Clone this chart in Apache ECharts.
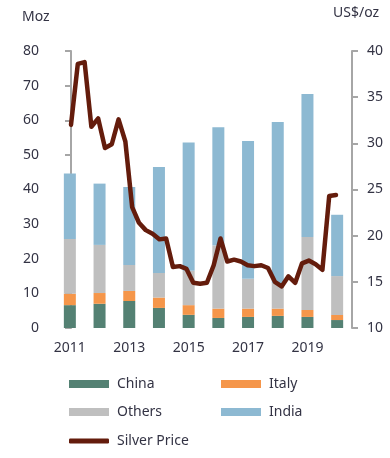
<!DOCTYPE html>
<html><head><meta charset="utf-8">
<script src="https://cdn.jsdelivr.net/npm/echarts@6/dist/echarts.min.js"></script>
<style>html,body{margin:0;padding:0;background:#fff}#c{width:390px;height:458px}</style>
</head><body><div id="c"></div>
<script>
var years = ['2011','2012','2013','2014','2015','2016','2017','2018','2019','2020'];
var china  = [6.6, 7.0, 7.8, 5.8, 3.8, 2.9, 3.2, 3.5, 3.2, 2.3];
var italy  = [3.3, 3.1, 2.9, 3.0, 2.8, 2.7, 2.4, 2.1, 2.0, 1.45];
var others = [15.8, 13.9, 7.5, 7.1, 9.9, 18.2, 8.6, 7.4, 21.1, 11.25];
var india  = [18.9, 17.7, 22.5, 30.6, 37.1, 34.2, 39.8, 46.5, 41.3, 17.7];
// quarterly silver price, 2011Q1 - 2020Q4 (US$/oz)
var silverPrice = [32.0, 38.6, 38.8, 31.8,
                   32.7, 29.5, 29.9, 32.6,
                   30.2, 23.1, 21.4, 20.6,
                   20.2, 19.6, 19.7, 16.6,
                   16.7, 16.4, 14.9, 14.8,
                   14.9, 16.8, 19.7, 17.2,
                   17.4, 17.2, 16.8, 16.7,
                   16.8, 16.5, 15.0, 14.5,
                   15.6, 14.9, 17.0, 17.3,
                   16.9, 16.3, 24.3, 24.4];
var leftTicks = {min: 0, max: 80, interval: 10};
var rightTicks = {min: 10, max: 40, interval: 5};

var txt = '#333344';
var font = 'Noto Sans';
var silverPts = silverPrice.map(function(v, i){ return [i, v]; });

var chart = echarts.init(document.getElementById('c'));
function lg(name, left, top, icon, h) {
  return {
    data: [{name: name, icon: icon || 'rect'}], left: left, top: top, padding: 0,
    itemWidth: 40, itemHeight: h || 8, selectedMode: false,
    textStyle: {fontFamily: font, fontSize: 14, color: txt, padding: [0,0,0,3]}
  };
}
chart.setOption({
  animation: false,
  textStyle: {fontFamily: font},
  grid: {left: 55, right: 38, top: 51, bottom: 130},
  graphic: [
    {type: 'text', left: 22, top: 10, style: {text: 'Moz', font: '14px "Noto Sans"', fill: txt}},
    {type: 'text', left: 333, top: 6, style: {text: 'US$/oz', font: '14px "Noto Sans"', fill: txt}}
  ],
  legend: [
    lg('China', 69, 377),
    lg('Italy', 221, 377),
    lg('Others', 69, 405),
    lg('India', 221, 405),
    lg('Silver Price', 69, 434, 'roundRect', 5)
  ],
  xAxis: [
    {type: 'category', data: years, boundaryGap: true,
     axisLine: {show: false}, axisTick: {show: false},
     axisLabel: {interval: 1, margin: 13, fontSize: 14, color: txt, fontFamily: font}},
    {type: 'value', min: -2.355, max: 41.355, show: false}
  ],
  yAxis: [
    {type: 'value', min: leftTicks.min, max: leftTicks.max, interval: leftTicks.interval,
     splitLine: {show: false},
     axisLine: {show: true, lineStyle: {color: '#A6A6A6', width: 2}},
     axisTick: {show: true, length: 6, lineStyle: {color: '#A6A6A6', width: 2}},
     axisLabel: {margin: 16, fontSize: 14, color: txt, fontFamily: font}},
    {type: 'value', position: 'right', min: rightTicks.min, max: rightTicks.max, interval: rightTicks.interval,
     splitLine: {show: false},
     axisLine: {show: true, lineStyle: {color: '#A6A6A6', width: 2}},
     axisTick: {show: true, length: 6, lineStyle: {color: '#A6A6A6', width: 2}},
     axisLabel: {margin: 15, fontSize: 14, color: txt, fontFamily: font}}
  ],
  series: [
    {name: 'China', type: 'bar', stack: 's', barWidth: 12, data: china, itemStyle: {color: '#548173'}},
    {name: 'Italy', type: 'bar', stack: 's', barWidth: 12, data: italy, itemStyle: {color: '#F5964A'}},
    {name: 'Others', type: 'bar', stack: 's', barWidth: 12, data: others, itemStyle: {color: '#BFBFBF'}},
    {name: 'India', type: 'bar', stack: 's', barWidth: 12, data: india, itemStyle: {color: '#8DB9D2'}},
    {name: 'Silver Price', type: 'line', xAxisIndex: 1, yAxisIndex: 1, data: silverPts,
     symbol: 'none', lineStyle: {color: '#641C0C', width: 4.5, cap: 'round', join: 'round'},
     itemStyle: {color: '#641C0C'}, z: 5}
  ]
});
</script></body></html>
